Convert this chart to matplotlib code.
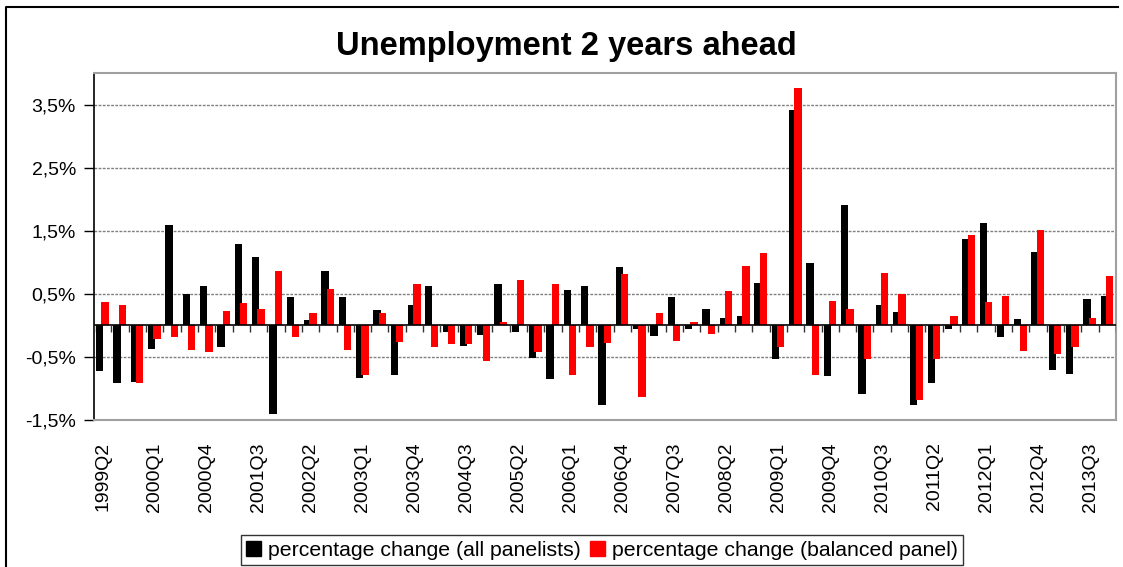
import numpy as np
import matplotlib
matplotlib.use("Agg")
import matplotlib.pyplot as plt
from matplotlib.patches import Patch
from matplotlib.lines import Line2D

plt.rcParams['font.family'] = ['Liberation Sans', 'DejaVu Sans']

# quarters 1999Q2 .. 2013Q4
quarters = [f"{y}Q{q}" for y in range(1999, 2014) for q in range(1, 5)][1:]

# percentage change (all panelists)
all_panelists = [
    -0.72, -0.91, -0.89,
    -0.37, 1.59, 0.49, 0.62,
    -0.35, 1.29, 1.08, -1.41,
    0.45, 0.08, 0.86, 0.45,
    -0.84, 0.24, -0.78, 0.33,
    0.62, -0.10, -0.32, -0.15,
    0.65, -0.10, -0.52, -0.85,
    0.56, 0.63, -1.26, 0.92,
    -0.06, -0.17, 0.45, -0.06,
    0.26, 0.12, 0.15, 0.67,
    -0.53, 3.41, 0.99, -0.80,
    1.90, -1.08, 0.33, 0.21,
    -1.26, -0.91, -0.05, 1.37,
    1.62, -0.18, 0.10, 1.17,
    -0.71, -0.77, 0.41, 0.46,
]

# percentage change (balanced panel)
balanced_panel = [
    0.37, 0.33, -0.92,
    -0.21, -0.19, -0.39, -0.42,
    0.23, 0.35, 0.26, 0.86,
    -0.18, 0.20, 0.58, -0.39,
    -0.78, 0.20, -0.26, 0.65,
    -0.34, -0.30, -0.29, -0.57,
    0.06, 0.72, -0.42, 0.66,
    -0.79, -0.34, -0.28, 0.81,
    -1.13, 0.20, -0.25, 0.06,
    -0.14, 0.54, 0.94, 1.15,
    -0.34, 3.76, -0.79, 0.38,
    0.26, -0.53, 0.83, 0.49,
    -1.19, -0.53, 0.15, 1.43,
    0.37, 0.47, -0.41, 1.51,
    -0.46, -0.34, 0.12, 0.79,
]

y_ticks = [-1.5, -0.5, 0.5, 1.5, 2.5, 3.5]
y_tick_labels = ["-1,5%", "-0,5%", "0,5%", "1,5%", "2,5%", "3,5%"]

fig = plt.figure(figsize=(11.23, 5.67), dpi=100)
ax = fig.add_axes([94 / 1123, 1 - 420 / 567, (1116 - 94) / 1123, (420 - 73) / 567])

x = np.arange(len(quarters))
ax.bar(x - 0.17, all_panelists, width=0.42, color='black', zorder=3)
ax.bar(x + 0.14, balanced_panel, width=0.42, color='#ff0000', zorder=4)

ax.set_xlim(-0.5, len(quarters) - 0.5)
ax.set_ylim(-1.5, 4.0)

# zero line with category tick marks
ax.axhline(0, color='black', lw=1.2, zorder=5)
ax.vlines(np.arange(len(quarters) + 1) - 0.5, -0.11, 0, color='#333333', lw=1, zorder=5)

ax.set_yticks(y_ticks)
ax.set_yticklabels(y_tick_labels, fontsize=14)
ax.tick_params(axis='y', length=7, width=1, color='black', pad=6)
ax.yaxis.grid(True, color='#808080', linestyle=(0, (2, 1)), lw=1, zorder=0)

ax.set_xticks(x[::3])
ax.set_xticklabels(quarters[::3], rotation=90, fontsize=14, va='top', ha='center')
ax.tick_params(axis='x', length=0, pad=16)

ax.spines['left'].set_color('black')
ax.spines['left'].set_linewidth(1.2)
for s in ['top', 'right', 'bottom']:
    ax.spines[s].set_color('#a0a0a0')
    ax.spines[s].set_linewidth(1.5)

fig.text(566 / 1123, 1 - 47 / 567, "Unemployment 2 years ahead", fontsize=23.5,
         fontweight='bold', ha='center', va='center')

handles = [Patch(facecolor='black', edgecolor='black'),
           Patch(facecolor='#ff0000', edgecolor='#ff0000')]
leg = fig.legend(handles, ["percentage change (all panelists)", "percentage change (balanced panel)"],
                 loc='lower center', bbox_to_anchor=(602 / 1123, 0.0), ncol=2, fontsize=15.3,
                 frameon=True, fancybox=False, handlelength=0.7, handleheight=0.7,
                 handletextpad=0.35, columnspacing=0.4, borderpad=0.25, borderaxespad=0.1)
leg.get_frame().set_edgecolor('black')
leg.get_frame().set_linewidth(1)

# outer chart border (left and top edges visible)
fig.add_artist(Line2D([6 / 1123, 6 / 1123, 1118 / 1123], [0, 1 - 7 / 567, 1 - 7 / 567],
                      transform=fig.transFigure, color='black', lw=1.5))

fig.savefig("out.png", dpi=100)
